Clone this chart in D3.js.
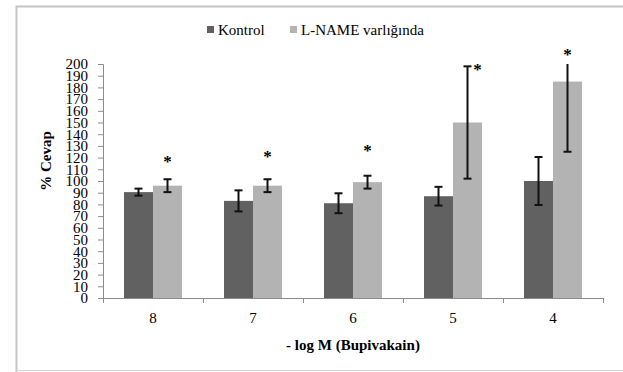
<!DOCTYPE html>
<html>
<head>
<meta charset="utf-8">
<script src="https://cdn.jsdelivr.net/npm/d3@7"></script>
<style>
  body { margin: 0; background: #fff; }
  svg { display: block; }
</style>
</head>
<body>
<svg id="chart" width="623" height="372"></svg>
<script>
// data
const categories = ['8', '7', '6', '5', '4'];
const series = ['Kontrol', 'L-NAME varlığında'];
const kontrol = [90.5, 83, 81, 87, 100];
const kontrolErr = [3, 9, 8.5, 8, 20.5];
const lname = [96, 96, 99, 150, 185];
const lnameErr = [5.5, 5.5, 5.5, 48, 60];
const starValues = [120, 124, 129, 198, 211];
const yTicks = d3.range(0, 201, 10);

const colors = { 'Kontrol': '#616161', 'L-NAME varlığında': '#b3b3b3' };
const serif = '"Liberation Serif", "DejaVu Serif", serif';

const svg = d3.select('#chart');

// outer frame
svg.append('path')
  .attr('d', 'M16.5,372 L16.5,6.5 L623,6.5')
  .attr('fill', 'none')
  .attr('stroke', '#c4c4c4')
  .attr('stroke-width', 2);
svg.append('line')
  .attr('x1', 16).attr('x2', 623).attr('y1', 370.5).attr('y2', 370.5)
  .attr('stroke', '#d6d6d6');

const area = { left: 103, right: 603, top: 64, bottom: 298 };

const x = d3.scaleBand()
  .domain(categories)
  .range([area.left, area.right])
  .paddingInner(0.42)
  .paddingOuter(0.21);

const xs = d3.scaleBand()
  .domain(series)
  .range([0, x.bandwidth()]);

const xEdge = d3.scaleLinear()
  .domain([0, categories.length])
  .range([area.left, area.right]);

const y = d3.scaleLinear()
  .domain([0, 200])
  .range([area.bottom, area.top]);

const yMax = y.domain()[1];

const rows = categories.map((c, i) => ({
  cat: c,
  values: [
    { s: series[0], v: kontrol[i], e: kontrolErr[i] },
    { s: series[1], v: lname[i], e: lnameErr[i] }
  ],
  star: starValues[i]
}));

// bars
const groups = svg.append('g')
  .selectAll('g')
  .data(rows)
  .join('g')
  .attr('transform', d => `translate(${x(d.cat)},0)`);

groups.selectAll('rect')
  .data(d => d.values)
  .join('rect')
  .attr('x', d => xs(d.s))
  .attr('y', d => y(d.v))
  .attr('width', xs.bandwidth())
  .attr('height', d => y(0) - y(d.v))
  .attr('fill', d => colors[d.s]);

// error bars (clipped at the axis maximum, like the original)
const err = groups.selectAll('g.err')
  .data(d => d.values)
  .join('g')
  .attr('class', 'err')
  .attr('stroke', '#111')
  .attr('stroke-width', 2);

const cx = d => xs(d.s) + xs.bandwidth() / 2;

err.append('line')
  .attr('x1', cx)
  .attr('x2', cx)
  .attr('y1', d => y(Math.min(yMax, d.v + d.e)))
  .attr('y2', d => y(d.v - d.e));

// caps
err.append('line')
  .attr('x1', d => cx(d) - 4)
  .attr('x2', d => cx(d) + 4)
  .attr('y1', d => y(d.v - d.e))
  .attr('y2', d => y(d.v - d.e));
err.filter(d => d.v + d.e <= yMax)
  .append('line')
  .attr('x1', d => cx(d) - 4)
  .attr('x2', d => cx(d) + 4)
  .attr('y1', d => y(d.v + d.e))
  .attr('y2', d => y(d.v + d.e));

// significance stars, nudged right when they sit on an error bar cap
groups.append('text')
  .attr('x', d => {
    const l = d.values[1];
    const top = Math.min(yMax, l.v + l.e);
    return cx(l) + (Math.abs(top - d.star) < 8 ? 10 : 0);
  })
  .attr('y', d => y(d.star) + 9)
  .attr('text-anchor', 'middle')
  .attr('font-family', serif)
  .attr('font-weight', 'bold')
  .attr('font-size', 17)
  .attr('fill', '#000')
  .text('*');

// y axis
const yAxis = svg.append('g')
  .attr('transform', `translate(${area.left},0)`)
  .call(d3.axisLeft(y).tickValues(yTicks).tickSize(5).tickPadding(10).tickFormat(d3.format('d')));
yAxis.select('.domain').attr('stroke', '#8c8c8c');
yAxis.selectAll('.tick line').attr('stroke', '#8c8c8c');
yAxis.selectAll('.tick text')
  .attr('font-family', serif)
  .attr('font-size', 15)
  .attr('fill', '#000');

// x axis: boundary ticks
const xAxis = svg.append('g')
  .attr('transform', `translate(0,${area.bottom})`)
  .call(d3.axisBottom(xEdge).tickValues(d3.range(0, categories.length + 1)).tickSize(5).tickFormat(''));
xAxis.select('.domain').attr('stroke', '#8c8c8c');
xAxis.selectAll('.tick line').attr('stroke', '#8c8c8c');

// x labels
const xLabels = svg.append('g')
  .attr('transform', `translate(0,${area.bottom})`)
  .call(d3.axisBottom(x).tickSize(0).tickPadding(14));
xLabels.select('.domain').remove();
xLabels.selectAll('.tick text')
  .attr('font-family', serif)
  .attr('font-size', 15)
  .attr('fill', '#000');

// axis titles
svg.append('text')
  .attr('x', 353)
  .attr('y', 350)
  .attr('text-anchor', 'middle')
  .attr('font-family', serif)
  .attr('font-weight', 'bold')
  .attr('font-size', 15)
  .text('- log M (Bupivakain)');

svg.append('text')
  .attr('transform', 'translate(51,161) rotate(-90)')
  .attr('text-anchor', 'middle')
  .attr('font-family', serif)
  .attr('font-weight', 'bold')
  .attr('font-size', 15)
  .text('% Cevap');

// legend
const legendPos = [207, 290];
const legend = svg.append('g')
  .selectAll('g')
  .data(series)
  .join('g')
  .attr('transform', (d, i) => `translate(${legendPos[i]},25)`);
legend.append('rect')
  .attr('width', 7).attr('height', 7)
  .attr('y', 1)
  .attr('fill', d => colors[d]);
legend.append('text')
  .attr('x', 11)
  .attr('y', 10)
  .attr('font-family', serif)
  .attr('font-size', 15)
  .attr('fill', '#000')
  .text(d => d);
</script>
</body>
</html>
